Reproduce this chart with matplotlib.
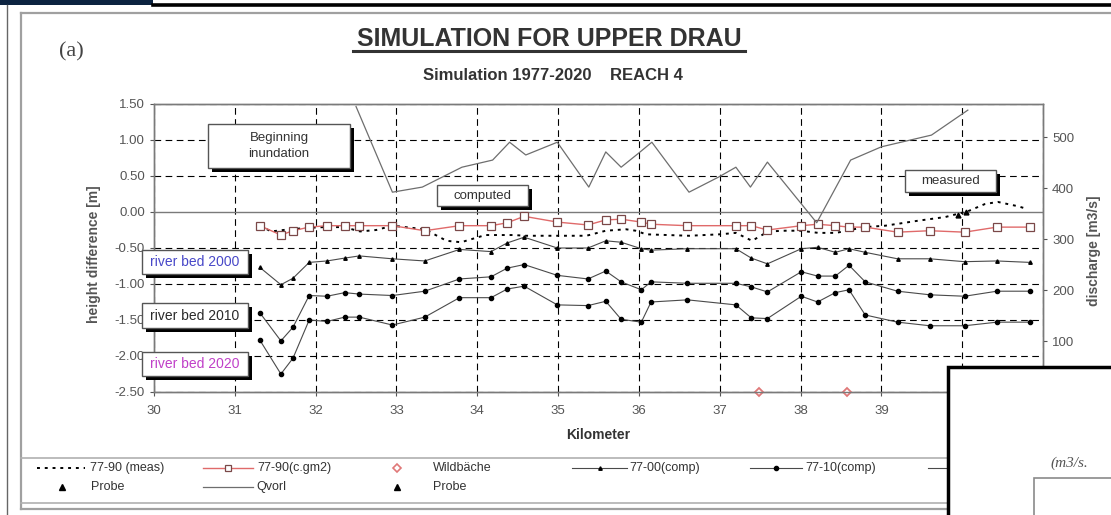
"""
    Upper Drau reach 4 - height difference of river bed, computed vs measured
"""

import matplotlib
matplotlib.use("Agg")
import matplotlib.pyplot as plt
from matplotlib.patches import Rectangle
from matplotlib.lines import Line2D

plt.rcParams['font.family'] = ['Liberation Sans', 'DejaVu Sans']
plt.rcParams['axes.unicode_minus'] = False

# --- data ---
# cross sections of the computed profiles (km)
stations = [31.31, 31.57, 31.72, 31.92, 32.14, 32.36, 32.54, 32.95, 33.35, 33.78,
            34.17, 34.37, 34.58, 34.99, 35.37, 35.59, 35.78, 36.03, 36.15, 36.60,
            37.20, 37.39, 37.59, 38.01, 38.21, 38.43, 38.60, 38.80, 39.20, 39.60,
            40.03, 40.43, 40.84]
cgm2_77_90 = [-0.19, -0.32, -0.26, -0.21, -0.19, -0.19, -0.19, -0.19, -0.26, -0.19,
              -0.19, -0.15, -0.06, -0.14, -0.18, -0.11, -0.10, -0.14, -0.17, -0.19,
              -0.19, -0.19, -0.25, -0.19, -0.17, -0.19, -0.21, -0.21, -0.28, -0.26,
              -0.28, -0.21, -0.21]
comp_77_00 = [-0.77, -1.01, -0.92, -0.70, -0.68, -0.64, -0.61, -0.65, -0.68, -0.52,
              -0.55, -0.43, -0.35, -0.50, -0.50, -0.40, -0.42, -0.51, -0.53, -0.51,
              -0.51, -0.64, -0.72, -0.51, -0.49, -0.56, -0.51, -0.56, -0.65, -0.65,
              -0.69, -0.68, -0.70]
comp_77_10 = [-1.40, -1.79, -1.60, -1.16, -1.17, -1.12, -1.14, -1.16, -1.10, -0.93,
              -0.90, -0.78, -0.73, -0.88, -0.93, -0.82, -0.97, -1.08, -0.97, -0.99,
              -0.99, -1.04, -1.11, -0.83, -0.89, -0.89, -0.74, -0.97, -1.10, -1.15,
              -1.17, -1.10, -1.10]
comp_77_20 = [-1.78, -2.25, -2.03, -1.50, -1.52, -1.46, -1.46, -1.57, -1.46, -1.19,
              -1.19, -1.07, -1.03, -1.29, -1.30, -1.24, -1.49, -1.53, -1.25, -1.22,
              -1.29, -1.47, -1.48, -1.17, -1.25, -1.12, -1.08, -1.43, -1.53, -1.58,
              -1.58, -1.53, -1.53]

# measured 1977-1990
km_meas = [31.31, 31.45, 31.60, 31.90, 32.10, 32.35, 32.55, 32.75, 32.95, 33.35,
           33.62, 33.80, 34.10, 34.45, 34.60, 35.00, 35.35, 35.59, 35.84, 35.96,
           36.09, 36.62, 37.00, 37.20, 37.40, 37.60, 37.81, 38.00, 38.22, 38.44,
           38.79, 39.05, 39.46, 39.79, 40.07, 40.28, 40.44, 40.69, 40.81]
meas_77_90 = [-0.19, -0.27, -0.25, -0.22, -0.21, -0.21, -0.27, -0.25, -0.19, -0.24,
              -0.40, -0.42, -0.32, -0.32, -0.33, -0.33, -0.33, -0.26, -0.24, -0.26,
              -0.31, -0.33, -0.31, -0.29, -0.40, -0.27, -0.26, -0.26, -0.29, -0.29,
              -0.21, -0.19, -0.12, -0.07, 0.01, 0.11, 0.14, 0.08, 0.04]

# discharge Qvorl (m3/s, right axis)
km_q = [32.50, 32.95, 33.32, 33.81, 34.19, 34.40, 34.60, 34.99, 35.38, 35.59,
        35.78, 36.00, 36.16, 36.62, 36.99, 37.20, 37.38, 37.59, 38.20, 38.62,
        39.00, 39.62, 40.07]
q_vorl = [560, 392, 402, 441, 455, 490, 465, 490, 402, 471,
          441, 469, 490, 392, 422, 441, 402, 451, 332, 455,
          481, 504, 553]

# torrents and samples
km_wild = [37.48, 38.57]
wild = [-2.50, -2.50]
km_probe1, probe1 = [39.95], [-0.04]
km_probe2, probe2 = [40.05], [0.00]

x_ticks = list(range(30, 42))
y_ticks = [-2.5, -2.0, -1.5, -1.0, -0.5, 0.0, 0.5, 1.0, 1.5]
q_ticks = [100, 200, 300, 400, 500]

# --- layout helpers (pixel -> figure fraction) ---
W, H = 1111, 515


def fx(px):
    return px / W


def fy(py):
    return 1 - py / H


GRAY = '#555555'
RED = '#e06a6a'

fig = plt.figure(figsize=(W / 100, H / 100), dpi=100)
ax = fig.add_axes([fx(154), fy(392), (1043 - 154) / W, (392 - 104) / H])
ax2 = ax.twinx()

# series
comp_style = dict(color='#4a4a4a', lw=0.8)
ax.plot(stations, comp_77_00, marker='^', ms=2.5, mfc='black', mec='black', **comp_style)
ax.plot(stations, comp_77_10, marker='o', ms=3, mfc='black', mec='black', **comp_style)
ax.plot(stations, comp_77_20, marker='o', ms=3, mfc='black', mec='black', **comp_style)
ax.plot(km_meas, meas_77_90, color='black', lw=1.4, ls=(0, (1.5, 2.5)))
ax.plot(stations, cgm2_77_90, color=RED, lw=1.0, marker='s', ms=5.5,
        mfc='white', mec='#7a4848', mew=0.9)
ax.plot(km_wild, wild, ls='none', marker='D', ms=4.5, mfc='white',
        mec='#e07878', mew=1.3, clip_on=False, zorder=5)
ax.plot(km_probe1, probe1, ls='none', marker='^', ms=3.5, color='black')
ax.plot(km_probe2, probe2, ls='none', marker='^', ms=3.5, color='black')
ax2.plot(km_q, q_vorl, color='#6e6e6e', lw=0.9)

# axes
ax.set_xlim(30, 41)
ax.set_ylim(-2.5, 1.5)
ax.set_xticks(x_ticks)
ax.set_xticklabels([str(t) for t in x_ticks])
ax.set_yticks(y_ticks)
ax.set_yticklabels(['%.2f' % t for t in y_ticks])
ax2.set_ylim(0, 565)
ax2.set_yticks(q_ticks)
ax2.set_yticklabels([str(t) for t in q_ticks])

for a in (ax, ax2):
    for s in a.spines.values():
        s.set_color('#7a7a7a')
        s.set_linewidth(1.0)
    a.tick_params(colors=GRAY, labelsize=9.5, length=3, width=0.8, direction='out')
ax.tick_params(axis='x', pad=6)

ax.grid(True, color='black', lw=0.8, ls=(0, (6, 4)))
for gl, t in zip(ax.get_ygridlines(), ax.get_yticks()):
    if abs(t) < 1e-9:
        gl.set_linestyle('-')
        gl.set_color('#7a7a7a')
        gl.set_linewidth(1.0)

ax.set_xlabel('Kilometer', fontsize=10, fontweight='bold', color='#333333', labelpad=8)
ax.set_ylabel('height difference [m]', fontsize=10, fontweight='bold', color=GRAY)
ax.yaxis.set_label_coords(-0.06, 0.48)
ax2.set_ylabel('discharge [m3/s]', fontsize=10, fontweight='bold', color=GRAY)
ax2.yaxis.set_label_coords(1.05, 0.49)

# titles
fig.text(fx(549), fy(39), 'SIMULATION FOR UPPER DRAU', fontsize=18, fontweight='bold',
         color='#333333', ha='center', va='center')
fig.add_artist(Line2D([fx(353), fx(745)], [fy(51), fy(51)], color='#333333', lw=2.2))
fig.text(fx(553), fy(76), 'Simulation 1977-2020    REACH 4', fontsize=12, fontweight='bold',
         color='#333333', ha='center', va='center')
fig.text(fx(71), fy(52), '(a)', fontsize=16, family='Liberation Serif', color='#444444',
         ha='center', va='center')


def shadow_box(x0, y0, x1, y1, text, color='#333333', size=9.5, sh=4):
    fig.add_artist(Rectangle((fx(x0 + sh), fy(y1 + sh)), (x1 - x0) / W, (y1 - y0) / H,
                             transform=fig.transFigure, facecolor='black',
                             edgecolor='none', zorder=6))
    fig.add_artist(Rectangle((fx(x0), fy(y1)), (x1 - x0) / W, (y1 - y0) / H,
                             transform=fig.transFigure, facecolor='white',
                             edgecolor='#555555', lw=1.0, zorder=7))
    fig.text(fx((x0 + x1) / 2), fy((y0 + y1) / 2), text, fontsize=size, color=color,
             ha='center', va='center', zorder=8, linespacing=1.4)


shadow_box(208, 124, 350, 168, 'Beginning\ninundation')
shadow_box(437, 185, 528, 206, 'computed')
shadow_box(905, 170, 996, 192, 'measured')
shadow_box(142, 250, 248, 274, 'river bed 2000', color='#4848c8', size=10)
shadow_box(142, 303, 248, 328, 'river bed 2010', color='#2a2a2a', size=10)
shadow_box(142, 352, 248, 376, 'river bed 2020', color='#c040c8', size=10)


# frame around the picture
def fline(xs, ys, color, lw):
    fig.add_artist(Line2D([fx(v) for v in xs], [fy(v) for v in ys], color=color, lw=lw,
                          zorder=3))


fig.add_artist(Rectangle((fx(0), fy(5)), fx(153), 5 / H, transform=fig.transFigure,
                         facecolor='#0c2340', edgecolor='none', zorder=3))
fline([153, W], [4.5, 4.5], 'black', 2.6)
fline([7, 7], [5, H], '#666666', 1.0)
fline([21, W], [13, 13], '#a0a0a0', 1.6)
fline([21, 21], [13, 509], '#a0a0a0', 1.6)
fline([21, W], [509, 509], '#a0a0a0', 1.6)
fline([21, W], [458, 458], '#b0b0b0', 1.2)
fline([21, W], [503, 503], '#b0b0b0', 1.2)

# legend (drawn by hand to keep the original spacing)
row1, row2 = 468, 487
leg_size = 9


def leg_line(x0, x1, y, **kw):
    fig.add_artist(Line2D([fx(x0), fx(x1)], [fy(y), fy(y)], zorder=4, **kw))


def leg_mark(x, y, **kw):
    fig.add_artist(Line2D([fx(x)], [fy(y)], ls='none', zorder=4, **kw))


def leg_text(x, y, s):
    fig.text(fx(x), fy(y), s, fontsize=leg_size, color='#333333', va='center', zorder=4)


leg_line(37, 85, row1, color='black', lw=1.4, ls=(0, (1.5, 2.5)))
leg_text(90, row1, '77-90 (meas)')
leg_line(203, 253, row1, color=RED, lw=1.0)
leg_mark(228, row1, marker='s', ms=5, mfc='white', mec='#7a4848', mew=0.9)
leg_text(257, row1, '77-90(c.gm2)')
leg_mark(397, row1, marker='D', ms=4, mfc='white', mec='#e07878', mew=1.2)
leg_text(433, row1, 'Wildbäche')
leg_line(572, 627, row1, **comp_style)
leg_mark(600, row1, marker='^', ms=2.5, color='black')
leg_text(629, row1, '77-00(comp)')
leg_line(750, 802, row1, **comp_style)
leg_mark(776, row1, marker='o', ms=3, color='black')
leg_text(805, row1, '77-10(comp)')
leg_line(928, 980, row1, **comp_style)
leg_mark(62, row2, marker='^', ms=4, color='black')
leg_text(91, row2, 'Probe')
leg_line(203, 253, row2, color='#6e6e6e', lw=0.9)
leg_text(256, row2, 'Qvorl')
leg_mark(397, row2, marker='^', ms=4, color='black')
leg_text(433, row2, 'Probe')

# neighbouring figure overlapping the lower right corner
fig.add_artist(Rectangle((fx(948), fy(H + 5)), (W - 948 + 5) / W, (H + 5 - 367) / H,
                         transform=fig.transFigure, facecolor='white',
                         edgecolor='black', lw=2.5, zorder=10))
fig.add_artist(Rectangle((fx(1034), fy(H + 5)), (W - 1034 + 5) / W, (H + 5 - 478) / H,
                         transform=fig.transFigure, facecolor='white',
                         edgecolor='#8a8a8a', lw=1.2, zorder=11))
fig.text(fx(1050), fy(463), '(m3/s.', fontsize=11, style='italic', family='Liberation Serif',
         color='#555555', va='center', zorder=12)

fig.savefig('out.png', dpi=100)
